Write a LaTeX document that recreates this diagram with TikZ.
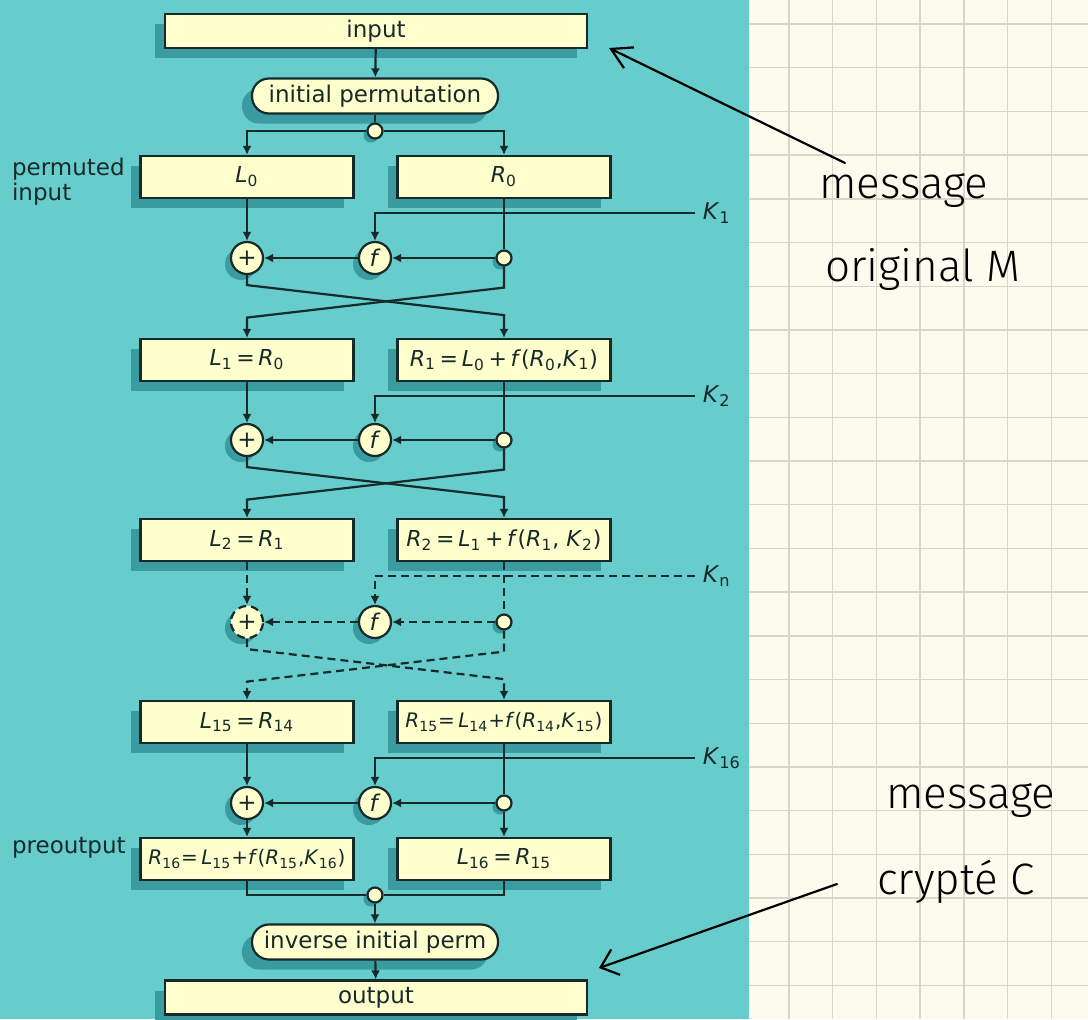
\documentclass[tikz,border=0pt]{standalone}
\usepackage{fontspec}
\setmainfont{DejaVu Sans}
\newfontfamily\handfont{Fira Sans Light}
\usetikzlibrary{arrows.meta,shadows}

\definecolor{desteal}{RGB}{102,204,204}
\definecolor{desshade}{RGB}{58,156,160}
\definecolor{descream}{RGB}{255,255,206}
\definecolor{desink}{RGB}{22,42,42}
\definecolor{paper}{RGB}{253,251,238}
\definecolor{gridgrey}{RGB}{216,214,200}

% italic letter with an upright index
\newcommand\vsub[2]{\textit{#1}\textsubscript{#2}}

\begin{document}
\begin{tikzpicture}[x=0.5pt, y=-0.5pt, line width=1.1pt, color=desink,
  font=\fontsize{11.5}{12.5}\selectfont,
  block/.style={draw, fill=descream, minimum width=106.5pt, minimum height=21pt, inner sep=1pt,
    drop shadow={shadow xshift=-5pt, shadow yshift=-5pt, fill=desshade, opacity=1}},
  wideblock/.style={block, minimum width=211pt, minimum height=17pt},
  permblock/.style={block, rounded corners=8.5pt, minimum width=123pt, minimum height=17.5pt},
  eqn/.style={font=\fontsize{11}{12}\selectfont},
  longeqn/.style={font=\fontsize{10}{12}\selectfont},
  op/.style={circle, draw, fill=descream, minimum size=16pt, inner sep=0pt,
    drop shadow={shadow xshift=-3pt, shadow yshift=-3pt, fill=desshade, opacity=1}},
  joint/.style={circle, draw, fill=descream, minimum size=7.5pt, inner sep=0pt,
    drop shadow={shadow xshift=-2pt, shadow yshift=-2pt, fill=desshade, opacity=1}},
  flow/.style={-{Latex[length=4.5pt,width=4.5pt]}},
  gappy/.style={dash pattern=on 4pt off 2.5pt},
  pen/.style={black, line width=1.1pt, line cap=round},
  hand/.style={font=\handfont\fontsize{22}{22}\selectfont, text=black, inner sep=0pt, anchor=base west}]
  % Squared paper and the teal panel.
  \fill[paper] (0,0) rectangle (1088,1019);
  \useasboundingbox (0,0) rectangle (1088,1019);
  \foreach \i in {0,...,6}
    \draw[gridgrey, line width=0.7pt] ({789+43.7*\i},0) -- ++(0,1019);
  \foreach \i in {0,...,22}
    \draw[gridgrey, line width=0.7pt] (749,{24+43.7*\i}) -- (1088,{24+43.7*\i});
  \fill[desteal] (0,0) rectangle (749,1019);

  % Input and split into halves.
  \node[wideblock] (in) at (376,31) {input};
  \node[permblock] (ip) at (375,96) {initial permutation};
  \node[joint] (j0) at (375,131) {};
  \node[block, eqn] (L0) at (247,177) {\vsub L0};
  \node[block, eqn] (R0) at (504,177) {\vsub R0};
  \node[anchor=north west, align=left, inner sep=0pt] (permin) at (11,157) {permuted\\input};
  \draw[flow] (in) -- (ip);
  \draw (ip) -- (j0);
  \draw[flow] (j0) -| (L0);
  \draw[flow] (j0) -| (R0);

  % Round 1.
  \node[op] (add1) at (247,258) {+};
  \node[op] (f1) at (375,258) {\textit{f}};
  \node[joint] (s1) at (504,258) {};
  \coordinate (kin1) at (695,213);
  \node[anchor=west] (k1) at (kin1) {\vsub K1};
  \draw[flow] (L0) -- (add1);
  \draw (R0) -- (s1);
  \draw[flow] (kin1) -| (f1);
  \draw[flow] (s1) -- (f1);
  \draw[flow] (f1) -- (add1);
  \node[block, eqn] (L1) at (247,360) {\vsub L1\,=\,\vsub R0};
  \node[block, eqn] (R1) at (504,360) {\vsub R1\,=\,\vsub L0\,+\,\textit{f}(\vsub R0,\vsub K1)};
  \draw[flow] (add1.south) -- ++(0,10) -- ++(257,30) -- (R1);
  \draw[flow] (s1.south) -- ++(0,21) -- ++(-257,30) -- (L1);

  % Round 2.
  \node[op] (add2) at (247,440) {+};
  \node[op] (f2) at (375,440) {\textit{f}};
  \node[joint] (s2) at (504,440) {};
  \coordinate (kin2) at (695,396);
  \node[anchor=west] (k2) at (kin2) {\vsub K2};
  \draw[flow] (L1) -- (add2);
  \draw (R1) -- (s2);
  \draw[flow] (kin2) -| (f2);
  \draw[flow] (s2) -- (f2);
  \draw[flow] (f2) -- (add2);
  \node[block, eqn] (L2) at (247,540) {\vsub L2\,=\,\vsub R1};
  \node[block, eqn] (R2) at (504,540) {\vsub R2\,=\,\vsub L1\,+\,\textit{f}(\vsub R1, \vsub K2)};
  \draw[flow] (add2.south) -- ++(0,10) -- ++(257,30) -- (R2);
  \draw[flow] (s2.south) -- ++(0,21) -- ++(-257,30) -- (L2);

  % Rounds 3 to 14, dashed.
  \node[op, gappy] (addn) at (247,622) {+};
  \node[op] (fn) at (375,622) {\textit{f}};
  \node[joint] (sn) at (504,622) {};
  \coordinate (kinn) at (695,576);
  \node[anchor=west] (kn) at (kinn) {\vsub Kn};
  \draw[flow, gappy] (L2) -- (addn);
  \draw[gappy] (R2) -- (sn);
  \draw[flow, gappy] (kinn) -| (fn);
  \draw[flow, gappy] (sn) -- (fn);
  \draw[flow, gappy] (fn) -- (addn);
  \node[block, eqn] (L15) at (247,722) {\vsub L{15}\,=\,\vsub R{14}};
  \node[block, longeqn] (R15) at (504,722) {\vsub R{15}=\,\vsub L{14}+\textit{f}(\vsub R{14},\vsub K{15})};
  \draw[flow, gappy] (addn.south) -- ++(0,10) -- ++(257,30) -- (R15);
  \draw[flow, gappy] (sn.south) -- ++(0,21) -- ++(-257,30) -- (L15);

  % Round 16, no swap.
  \node[op] (add16) at (247,803) {+};
  \node[op] (f16) at (375,803) {\textit{f}};
  \node[joint] (s16) at (504,803) {};
  \coordinate (kin16) at (695,758);
  \node[anchor=west] (k16) at (kin16) {\vsub K{16}};
  \draw[flow] (L15) -- (add16);
  \draw (R15) -- (s16);
  \draw[flow] (kin16) -| (f16);
  \draw[flow] (s16) -- (f16);
  \draw[flow] (f16) -- (add16);
  \node[block, longeqn] (R16) at (247,859) {\vsub R{16}=\,\vsub L{15}+\textit{f}(\vsub R{15},\vsub K{16})};
  \node[block, eqn] (L16) at (504,859) {\vsub L{16}\,=\,\vsub R{15}};
  \node[anchor=west, inner sep=0pt] (preout) at (11,848) {preoutput};
  \draw[flow] (add16) -- (R16);
  \draw[flow] (s16) -- (L16);

  % Join and output.
  \node[joint] (jout) at (375,895) {};
  \node[permblock] (iip) at (375,942) {inverse initial perm};
  \node[wideblock] (out) at (376,997.5) {output};
  \draw (R16) |- (jout);
  \draw (L16) |- (jout);
  \draw[flow] (jout) -- (iip);
  \draw[flow] (iip) -- (out);

  % Notes in pen.
  \node[hand] (msgM) at (818,198) {message};
  \node[hand] (origM) at (824,281) {original M};
  \node[hand] (msgC) at (885,808) {message};
  \node[hand] (crypC) at (876,894) {crypté C};
  \coordinate (tailM) at (845,163);
  \coordinate (tipM) at (609,48);
  \draw[pen, -{Straight Barb[length=10pt,width=11.5pt]}] (tailM) -- (tipM);
  \coordinate (tailC) at (837,884);
  \coordinate (tipC) at (599,968);
  \draw[pen, -{Straight Barb[length=8pt,width=13.5pt]}] (tailC) -- (tipC);
\end{tikzpicture}
\end{document}
